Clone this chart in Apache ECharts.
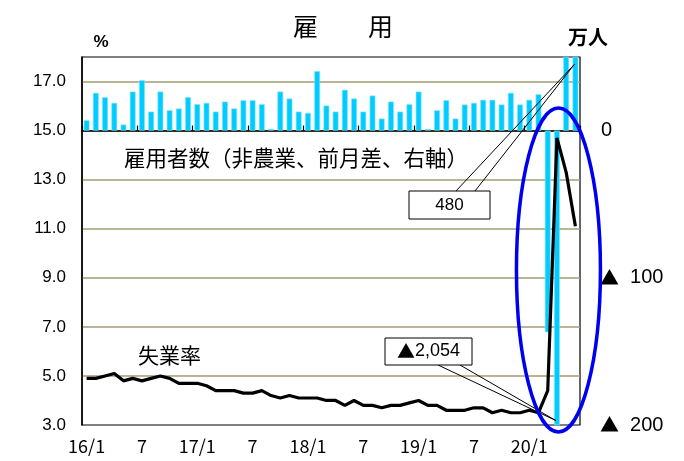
<!DOCTYPE html>
<html>
<head>
<meta charset="utf-8">
<script src="https://cdn.jsdelivr.net/npm/echarts@6/dist/echarts.min.js"></script>
<style>
html,body{margin:0;padding:0;background:#fff;}
#chart{width:684px;height:461px;}
</style>
</head>
<body>
<div id="chart"></div>
<script>
// Categories (months Jan 2016 - Jun 2020)
const categories = [
  '16/1','2','3','4','5','6','7','8','9','10','11','12',
  '17/1','2','3','4','5','6','7','8','9','10','11','12',
  '18/1','2','3','4','5','6','7','8','9','10','11','12',
  '19/1','2','3','4','5','6','7','8','9','10','11','12',
  '20/1','2','3','4','5','6'
];
// Unemployment rate (%), left axis
const unemploymentRate = [
  4.9,4.9,5.0,5.1,4.8,4.9,4.8,4.9,5.0,4.9,4.7,4.7,
  4.7,4.6,4.4,4.4,4.4,4.3,4.3,4.4,4.2,4.1,4.2,4.1,
  4.1,4.1,4.0,4.0,3.8,4.0,3.8,3.8,3.7,3.8,3.8,3.9,
  4.0,3.8,3.8,3.6,3.6,3.6,3.7,3.7,3.5,3.6,3.5,3.5,
  3.6,3.5,4.4,14.7,13.3,11.1
];
// Nonfarm payroll change from previous month (10k persons), right axis
const payrollChange = [
  7.0,25.6,22.7,18.8,4.1,26.5,34.2,12.9,26.5,13.8,15.0,22.7,
  17.9,18.8,12.9,19.7,15.0,20.6,20.6,17.9,1.1,26.5,21.8,12.9,
  12.0,40.4,17.0,12.9,27.7,21.8,12.9,23.8,8.2,19.7,12.9,17.9,
  26.5,1.1,13.8,20.6,8.2,17.7,18.8,20.9,20.9,17.7,25.6,17.7,
  20.9,24.7,-137,-2054,270,480
];
// Left axis ticks
const leftMin = 3, leftMax = 18, leftInterval = 2;
// Right axis ticks
const rightMin = -200, rightMax = 50, rightInterval = 100;
// Callout labels
const calloutJun = '480';
const calloutApr = '2,054';

const chart = echarts.init(document.getElementById('chart'), null, {renderer: 'canvas'});
const jpFont = '"Noto Sans CJK JP", "Noto Sans", sans-serif';
const numFont = '"Liberation Sans", Arial, sans-serif';

const option = {
  animation: false,
  backgroundColor: '#ffffff',
  grid: {
    left: 82, right: 104, top: 57, bottom: 36,
    show: true, borderColor: '#000', borderWidth: 1.2, backgroundColor: 'transparent'
  },
  xAxis: {
    type: 'category',
    data: categories,
    boundaryGap: true,
    axisLine: {lineStyle: {color: '#000', width: 1.5}},
    axisTick: {show: true, inside: true, length: 5, interval: 5, lineStyle: {color: '#000', width: 1.2}},
    axisLabel: {interval: 5, color: '#000', fontSize: 18, fontFamily: jpFont, margin: 12},
    splitLine: {show: false}
  },
  yAxis: [
    {
      type: 'value', min: leftMin, max: leftMax, interval: leftInterval,
      axisLine: {show: true, lineStyle: {color: '#000', width: 1.5}},
      axisTick: {show: false},
      axisLabel: {
        color: '#000', fontSize: 17, fontFamily: numFont, margin: 16,
        showMaxLabel: false,
        formatter: v => v.toFixed(1)
      },
      splitLine: {show: true, showMinLine: false, showMaxLine: false, lineStyle: {color: '#a39d74', width: 1.6}}
    },
    {
      type: 'value', min: rightMin, max: rightMax, interval: rightInterval,
      position: 'right',
      axisLine: {show: false},
      axisTick: {show: false},
      axisLabel: {
        color: '#000', fontSize: 20, fontFamily: numFont, margin: 20, align: 'left',
        formatter: v => v < 0 ? '{t|▲}  ' + (-v) : (v === 0 ? '{z|0}' : ''),
        rich: {t: {fontFamily: jpFont, fontSize: 19, color: '#000'}, z: {fontFamily: numFont, fontSize: 20, color: '#000', padding: [0, 0, 0, 1]}}
      },
      splitLine: {show: false}
    }
  ],
  series: [
    {
      name: '雇用者数',
      type: 'bar',
      yAxisIndex: 1,
      data: payrollChange,
      barWidth: '62%',
      clip: true,
      itemStyle: {color: '#00ccff', borderColor: '#7fe3ff', borderWidth: 0.6},
      z: 2
    },
    {
      name: '失業率',
      type: 'line',
      yAxisIndex: 0,
      data: unemploymentRate,
      symbol: 'none',
      lineStyle: {color: '#000', width: 3.2},
      z: 3
    }
  ]
};
chart.setOption(option);

// Annotation anchors from the axes
const xApr = chart.convertToPixel({xAxisIndex: 0}, 51);
const xJun = chart.convertToPixel({xAxisIndex: 0}, 53);
const tipApr = [xApr - 1, chart.convertToPixel({yAxisIndex: 1}, -197)];
const tipJun = [xJun - 1, chart.convertToPixel({yAxisIndex: 1}, 45)];

const lineStyle = {stroke: '#000', lineWidth: 1, fill: 'none'};
chart.setOption({
  graphic: [
    {type: 'text', left: 293, top: 14, style: {text: '雇\u3000\u3000用', fill: '#000', font: '25px ' + jpFont}},
    {type: 'text', style: {text: '%', x: 101, y: 42, fill: '#000', font: 'bold 17px ' + numFont, align: 'center', verticalAlign: 'middle'}},
    {type: 'text', style: {text: '万人', x: 588, y: 37, fill: '#000', font: 'bold 20px ' + jpFont, align: 'center', verticalAlign: 'middle'}},
    {type: 'text', style: {text: '雇用者数（非農業、前月差、右軸）', x: 124, y: 158, fill: '#000', font: '21.5px ' + jpFont, align: 'left', verticalAlign: 'middle'}},
    {type: 'text', style: {text: '失業率', x: 138, y: 355, fill: '#000', font: '21px ' + jpFont, align: 'left', verticalAlign: 'middle'}},
    // 480 callout
    {type: 'line', shape: {x1: 456, y1: 191, x2: tipJun[0], y2: tipJun[1]}, style: lineStyle, z: 20},
    {type: 'line', shape: {x1: 475, y1: 191, x2: tipJun[0], y2: tipJun[1]}, style: lineStyle, z: 20},
    {type: 'rect', shape: {x: 409, y: 191, width: 81, height: 28}, style: {fill: '#fff', stroke: '#000', lineWidth: 1}, z: 21},
    {type: 'text', style: {text: calloutJun, x: 449.5, y: 205, fill: '#000', font: '17px ' + numFont, align: 'center', verticalAlign: 'middle'}, z: 22},
    // ▲2,054 callout
    {type: 'line', shape: {x1: 438, y1: 365, x2: tipApr[0], y2: tipApr[1]}, style: lineStyle, z: 20},
    {type: 'line', shape: {x1: 460, y1: 365, x2: tipApr[0], y2: tipApr[1]}, style: lineStyle, z: 20},
    {type: 'rect', shape: {x: 385, y: 338, width: 87, height: 27}, style: {fill: '#fff', stroke: '#000', lineWidth: 1}, z: 21},
    {type: 'text', z: 22, style: {
      text: '{t|▲}{n|' + calloutApr + '}', x: 428.5, y: 351.5, align: 'center', verticalAlign: 'middle',
      rich: {t: {fontFamily: jpFont, fontSize: 18, fill: '#000'}, n: {fontFamily: numFont, fontSize: 18, fill: '#000'}}
    }},
    // blue ellipse
    {type: 'ellipse', shape: {cx: xApr + 1.5, cy: 270, rx: 42, ry: 162}, style: {fill: 'none', stroke: '#0000f0', lineWidth: 3.5}, z: 25}
  ]
});
</script>
</body>
</html>
